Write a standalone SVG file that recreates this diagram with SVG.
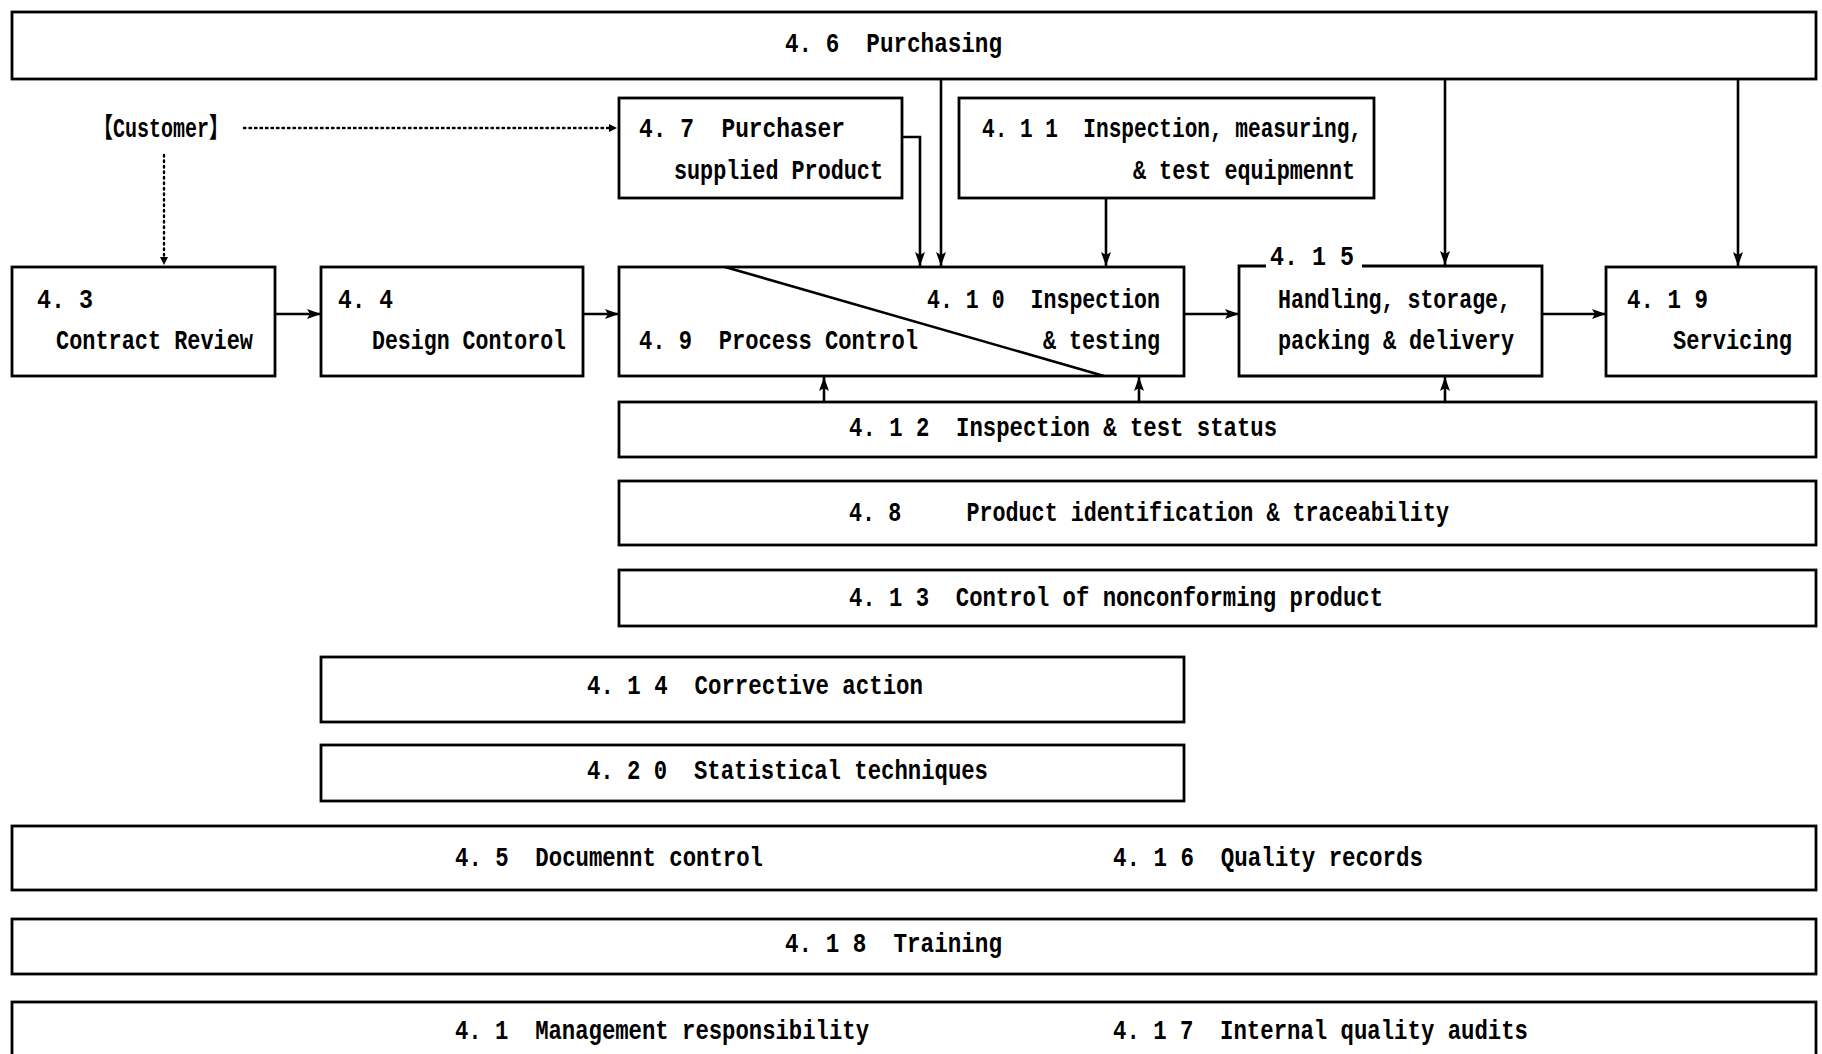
<svg xmlns="http://www.w3.org/2000/svg" width="1822" height="1054" viewBox="0 0 1822 1054">
<style>
.box{fill:none;stroke:#000;stroke-width:2.8}
.ln{fill:none;stroke:#000;stroke-width:2.6}
.dot{fill:none;stroke:#000;stroke-width:2.4;stroke-dasharray:1.5 4;stroke-linecap:round}
text{font-family:'Liberation Mono','Noto Sans CJK JP',monospace;font-weight:bold;font-size:27px;fill:#000;white-space:pre}
</style>
<defs>
<marker id="ah" viewBox="0 0 14 10" refX="14" refY="5" markerWidth="14" markerHeight="10" orient="auto" markerUnits="userSpaceOnUse"><path d="M0,0 L14,5 L0,10 L3,5 z" fill="#000"/></marker>
<marker id="ahs" viewBox="0 0 8 8" refX="8" refY="4" markerWidth="8" markerHeight="8" orient="auto" markerUnits="userSpaceOnUse"><path d="M0,0 L8,4 L0,8 z" fill="#000"/></marker>
</defs>
<rect width="1822" height="1054" fill="#fff"/>
<g id="n46"><rect class="box" x="12" y="12" width="1804" height="67"/><text x="785" y="52" textLength="217" lengthAdjust="spacingAndGlyphs">4. 6  Purchasing</text></g>
<g id="customer"><text x="93" y="137" textLength="136" lengthAdjust="spacingAndGlyphs" style="font-weight:900">【Customer】</text></g>
<g id="n47"><rect class="box" x="619" y="98" width="283" height="100"/><text x="639" y="137" textLength="206" lengthAdjust="spacingAndGlyphs">4. 7  Purchaser</text><text x="674" y="179" textLength="209" lengthAdjust="spacingAndGlyphs">supplied Product</text></g>
<g id="n411"><rect class="box" x="959" y="98" width="415" height="100"/><text x="982" y="137" textLength="380" lengthAdjust="spacingAndGlyphs">4. 1 1  Inspection, measuring,</text><text x="1133" y="179" textLength="222" lengthAdjust="spacingAndGlyphs">&amp; test equipmennt</text></g>
<g id="n43"><rect class="box" x="12" y="267" width="263" height="109"/><text x="37" y="308" textLength="56" lengthAdjust="spacingAndGlyphs">4. 3</text><text x="56" y="349" textLength="197" lengthAdjust="spacingAndGlyphs">Contract Review</text></g>
<g id="n44"><rect class="box" x="321" y="267" width="262" height="109"/><text x="338" y="308" textLength="55" lengthAdjust="spacingAndGlyphs">4. 4</text><text x="372" y="349" textLength="194" lengthAdjust="spacingAndGlyphs">Design Contorol</text></g>
<g id="n49_410"><rect class="box" x="619" y="267" width="565" height="109"/><line class="ln" x1="725" y1="267" x2="1104" y2="376"/><text x="927" y="308" textLength="233" lengthAdjust="spacingAndGlyphs">4. 1 0  Inspection</text><text x="1043" y="349" textLength="117" lengthAdjust="spacingAndGlyphs">&amp; testing</text><text x="639" y="349" textLength="279" lengthAdjust="spacingAndGlyphs">4. 9  Process Control</text></g>
<g id="n415"><path class="box" d="M1266,266 H1239 V376 H1542 V266 H1362"/><text x="1270" y="265" textLength="84" lengthAdjust="spacingAndGlyphs">4. 1 5</text><text x="1278" y="308" textLength="233" lengthAdjust="spacingAndGlyphs">Handling, storage,</text><text x="1278" y="349" textLength="236" lengthAdjust="spacingAndGlyphs">packing &amp; delivery</text></g>
<g id="n419"><rect class="box" x="1606" y="267" width="210" height="109"/><text x="1627" y="308" textLength="81" lengthAdjust="spacingAndGlyphs">4. 1 9</text><text x="1673" y="349" textLength="119" lengthAdjust="spacingAndGlyphs">Servicing</text></g>
<g id="n412"><rect class="box" x="619" y="402" width="1197" height="55"/><text x="849" y="436" textLength="428" lengthAdjust="spacingAndGlyphs">4. 1 2  Inspection &amp; test status</text></g>
<g id="n48"><rect class="box" x="619" y="481" width="1197" height="64"/><text x="849" y="521" textLength="600" lengthAdjust="spacingAndGlyphs">4. 8     Product identification &amp; traceability</text></g>
<g id="n413"><rect class="box" x="619" y="570" width="1197" height="56"/><text x="849" y="606" textLength="534" lengthAdjust="spacingAndGlyphs">4. 1 3  Control of nonconforming product</text></g>
<g id="n414"><rect class="box" x="321" y="657" width="863" height="65"/><text x="587" y="694" textLength="336" lengthAdjust="spacingAndGlyphs">4. 1 4  Corrective action</text></g>
<g id="n420"><rect class="box" x="321" y="745" width="863" height="56"/><text x="587" y="779" textLength="401" lengthAdjust="spacingAndGlyphs">4. 2 0  Statistical techniques</text></g>
<g id="n45_416"><rect class="box" x="12" y="826" width="1804" height="64"/><text x="455" y="866" textLength="308" lengthAdjust="spacingAndGlyphs">4. 5  Documennt control</text><text x="1113" y="866" textLength="310" lengthAdjust="spacingAndGlyphs">4. 1 6  Quality records</text></g>
<g id="n418"><rect class="box" x="12" y="919" width="1804" height="55"/><text x="785" y="952" textLength="217" lengthAdjust="spacingAndGlyphs">4. 1 8  Training</text></g>
<g id="n41_417"><rect class="box" x="12" y="1002" width="1804" height="70"/><text x="455" y="1039" textLength="414" lengthAdjust="spacingAndGlyphs">4. 1  Management responsibility</text><text x="1113" y="1039" textLength="415" lengthAdjust="spacingAndGlyphs">4. 1 7  Internal quality audits</text></g>
<g id="connectors">
<line class="dot" x1="244" y1="128" x2="617" y2="128" marker-end="url(#ahs)"/>
<line class="dot" x1="164" y1="155" x2="164" y2="265" marker-end="url(#ahs)"/>
<line class="ln" x1="275" y1="314" x2="321" y2="314" marker-end="url(#ah)"/>
<line class="ln" x1="583" y1="314" x2="619" y2="314" marker-end="url(#ah)"/>
<line class="ln" x1="1184" y1="314" x2="1239" y2="314" marker-end="url(#ah)"/>
<line class="ln" x1="1542" y1="314" x2="1606" y2="314" marker-end="url(#ah)"/>
<line class="ln" x1="941" y1="79" x2="941" y2="266" marker-end="url(#ah)"/>
<path class="ln" d="M902,137 H920 V266" marker-end="url(#ah)"/>
<line class="ln" x1="1106" y1="198" x2="1106" y2="266" marker-end="url(#ah)"/>
<line class="ln" x1="1445" y1="79" x2="1445" y2="265" marker-end="url(#ah)"/>
<line class="ln" x1="1738" y1="79" x2="1738" y2="266" marker-end="url(#ah)"/>
<line class="ln" x1="824" y1="402" x2="824" y2="377" marker-end="url(#ah)"/>
<line class="ln" x1="1139" y1="402" x2="1139" y2="377" marker-end="url(#ah)"/>
<line class="ln" x1="1445" y1="402" x2="1445" y2="377" marker-end="url(#ah)"/>
</g>
</svg>
